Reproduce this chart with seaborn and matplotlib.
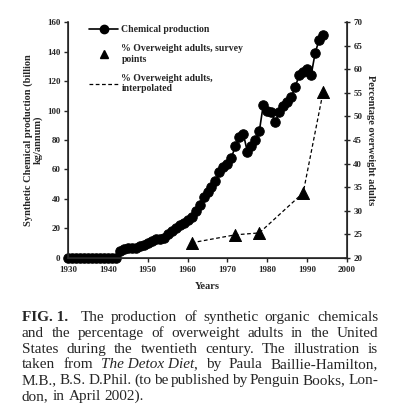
import matplotlib
matplotlib.use("Agg")
import matplotlib.pyplot as plt
from matplotlib.lines import Line2D
import pandas as pd
import seaborn as sns

# chemical production, billion kg/annum
chem_years = list(range(1930, 1995))
chem_values = [0] * 13 + [
    5, 6, 6.5, 6.5, 7, 8, 8.5, 10, 11.5, 12.5,
    13, 13.5, 16, 18, 20, 22, 24, 26, 28, 32,
    36, 41, 45, 48, 52, 58, 62, 64, 68, 76,
    82, 84, 72, 76, 80, 86, 104, 100, 99, 92,
    99, 103, 106, 109, 116, 124, 126, 128, 124, 139,
    148, 151,
]

# % overweight adults, survey points
ow_years = [1961, 1972, 1978, 1989, 1994]
ow_values = [23.2, 24.9, 25.3, 33.8, 55.2]

x_ticks = list(range(1930, 2001, 10))
left_ticks = list(range(0, 161, 20))
right_ticks = list(range(20, 71, 5))

chem = pd.DataFrame({"year": chem_years, "value": chem_values})
ow = pd.DataFrame({"year": ow_years, "value": ow_values})

sns.set_style("ticks")
plt.rcParams["font.family"] = ["Liberation Serif", "DejaVu Serif"]

fig = plt.figure(figsize=(3.93, 4.18), dpi=100)
ax = fig.add_axes([0.173, 0.383, 0.71, 0.564])

sns.lineplot(data=chem, x="year", y="value", ax=ax, color="black", lw=1.2,
             marker="o", markersize=6.8, markeredgecolor="black", clip_on=False)
ax.set_xlim(1930, 2000)
ax.set_ylim(0, 160)
ax.set_xticks(x_ticks)
ax.set_yticks(left_ticks)
ax.tick_params(axis="both", labelsize=6.5, direction="out", length=3, width=1, pad=2.5)
for lab in ax.get_xticklabels() + ax.get_yticklabels():
    lab.set_fontweight("bold")
ax.set_xlabel("Years", fontsize=7.5, fontweight="bold", labelpad=6)
ax.set_ylabel("Synthetic Chemical production (billion\nkg/annum)", fontsize=7.5,
              fontweight="bold", labelpad=3, linespacing=1.05)
ax.spines["top"].set_visible(False)
for s in ["left", "bottom"]:
    ax.spines[s].set_linewidth(1.2)

ax2 = ax.twinx()
sns.lineplot(data=ow, x="year", y="value", ax=ax2, color="black", lw=0.9,
             linestyle=(0, (3, 2)))
sns.scatterplot(data=ow, x="year", y="value", ax=ax2, color="black",
                marker="^", s=75, edgecolor="black", zorder=5)
ax2.set_ylim(20, 70)
ax2.set_yticks(right_ticks)
ax2.tick_params(axis="y", labelsize=6.5, direction="inout", length=5, width=1, pad=2)
for lab in ax2.get_yticklabels():
    lab.set_fontweight("bold")
ax2.set_ylabel("Percentage overweight adults", fontsize=7.5, fontweight="bold",
               rotation=270, labelpad=9)
ax2.set_xlabel("")
ax2.spines["top"].set_visible(False)
ax2.spines["right"].set_linewidth(1.2)

handles = [
    Line2D([], [], color="black", lw=1.2, marker="o", markersize=6),
    Line2D([], [], color="black", lw=0, marker="^", markersize=6),
    Line2D([], [], color="black", lw=0.9, linestyle=(0, (3, 2))),
]
labels = [
    "Chemical production",
    "% Overweight adults, survey\npoints",
    "% Overweight adults,\ninterpolated",
]
leg = ax.legend(handles, labels, loc="upper left", bbox_to_anchor=(0.045, 1.025),
                frameon=False, prop={"size": 7, "weight": "bold"},
                handlelength=3.0, handletextpad=0.3, labelspacing=1.05)

# caption, justified line by line
caption = [
    [("FIG. 1.", "bold", "normal"), ("", "normal", "normal"), ("The", "normal", "normal"),
     ("production", "normal", "normal"), ("of", "normal", "normal"),
     ("synthetic", "normal", "normal"), ("organic", "normal", "normal"),
     ("chemicals", "normal", "normal")],
    [(w, "normal", "normal") for w in "and the percentage of overweight adults in the United".split()],
    [(w, "normal", "normal") for w in "States during the twentieth century. The illustration is".split()],
    [("taken", "normal", "normal"), ("from", "normal", "normal"),
     ("The Detox Diet", "normal", "italic"), (",", "normal", "normal"),
     ("by", "normal", "normal"), ("Paula", "normal", "normal"),
     ("Baillie-Hamilton,", "normal", "normal")],
    [(w, "normal", "normal") for w in "M.B., B.S. D.Phil. (to be published by Penguin Books, Lon-".split()],
    [(w, "normal", "normal") for w in "don, in April 2002).".split()],
]

renderer = fig.canvas.get_renderer()
W = fig.bbox.width
H = fig.bbox.height
x_left, x_right = 22, 378
fs = 11


def width_of(s, weight, style):
    t = fig.text(0, 0, s, fontsize=fs, fontweight=weight, fontstyle=style)
    w = t.get_window_extent(renderer).width
    t.remove()
    return w


space = width_of("a a", "normal", "normal") - width_of("aa", "normal", "normal")

for i, words in enumerate(caption):
    y = 1 - (321 + i * 15.8) / H
    widths = [width_of(wd, wt, st) if wd else 0 for wd, wt, st in words]
    gaps = sum(1 for j in range(1, len(words)) if words[j][0] != ",")
    last = i == len(caption) - 1
    gap = space if last else (x_right - x_left - sum(widths)) / gaps
    x = x_left
    for j, (wd, wt, st) in enumerate(words):
        if j > 0 and wd != ",":
            x += gap
        if wd:
            fig.text(x / W, y, wd, fontsize=fs, fontweight=wt, fontstyle=st,
                     va="baseline")
        x += widths[j]

fig.savefig("out.png", dpi=100)
